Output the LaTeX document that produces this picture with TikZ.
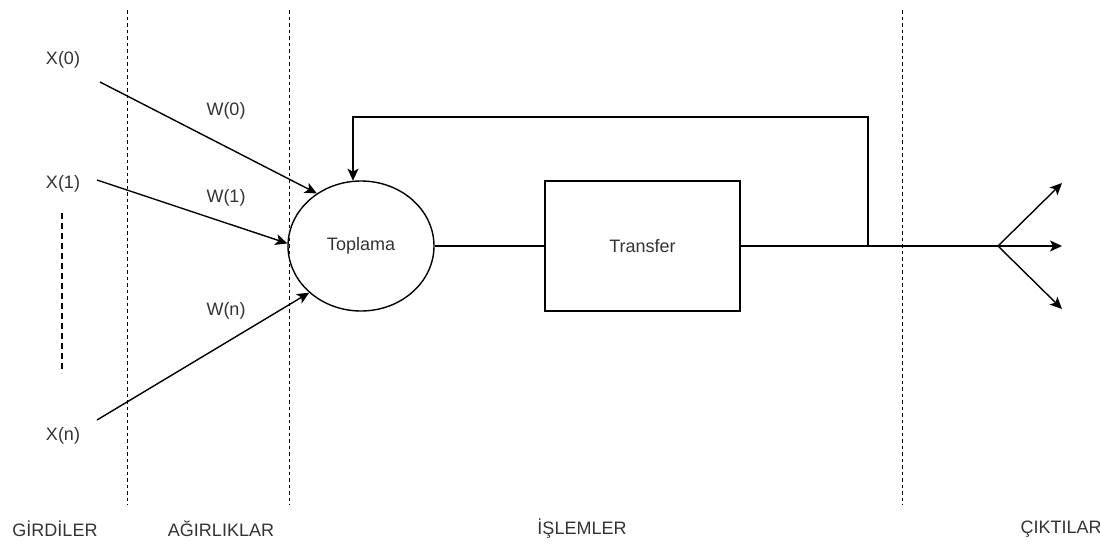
\documentclass[tikz,border=0pt]{standalone}
\usepackage{fontspec}
\setmainfont{Liberation Sans}
\usetikzlibrary{arrows.meta,shapes.geometric}
\begin{document}
\begin{tikzpicture}[x=1pt,y=-1pt,
  line width=1.4pt,
  lbl/.style={text=black!80,font=\fontsize{18}{21}\selectfont,inner sep=0pt},
  arr/.style={-{Stealth[length=12pt,width=11pt,inset=3pt]}},
  divider/.style={line width=1pt,dash pattern=on 3.5pt off 3pt},
  gap/.style={line width=1.2pt,dash pattern=on 6pt off 4pt}]
\useasboundingbox (0,0) rectangle (1100,549);

% column dividers
\coordinate (d1t) at (127,10);  \coordinate (d1b) at (127,505);
\coordinate (d2t) at (289,10);  \coordinate (d2b) at (289,505);
\coordinate (d3t) at (902,10);  \coordinate (d3b) at (902,505);
\draw[divider] (d1t) -- (d1b);
\draw[divider] (d2t) -- (d2b);
\draw[divider] (d3t) -- (d3b);

% inputs
\node[lbl] (x0) at (63,60) {X(0)};
\node[lbl] (x1) at (63,184) {X(1)};
\node[lbl] (xn) at (63,436) {X(n)};
\coordinate (gapt) at (62,213);
\coordinate (gapb) at (62,373);
\draw[gap] (gapt) -- (gapb);

% weights
\node[lbl] (w0) at (226,111) {W(0)};
\node[lbl] (w1) at (226,198) {W(1)};
\node[lbl] (wn) at (226,311) {W(n)};

% summation and transfer blocks
\node[draw,ellipse,minimum width=146pt,minimum height=130pt,inner sep=0pt,lbl] (sum) at (361,246) {Toplama};
\node[draw,rectangle,minimum width=195pt,minimum height=130pt,inner sep=0pt,lbl] (tr) at (642.5,246) {Transfer};

% weighted input connections
\coordinate (s0) at (100,82);
\coordinate (s1) at (97,180);
\coordinate (sn) at (97,420);
\draw[arr] (s0) -- (sum.130);
\draw[arr] (s1) -- (sum.178);
\draw[arr] (sn) -- (sum.222);

% forward path
\draw (sum.east) -- (tr.west);
\coordinate (fb) at (868,246);
\coordinate (fbtop) at (868,117);
\coordinate (split) at (998,246);
\draw (tr.east) -- (split);

% feedback loop
\draw[arr] (fb) -- (fbtop) -| (sum.97);

% outputs
\coordinate (o1) at (1062,183);
\coordinate (o2) at (1062,246);
\coordinate (o3) at (1062,309);
\draw[arr] (split) -- (o1);
\draw[arr] (split) -- (o2);
\draw[arr] (split) -- (o3);

% column titles
\node[lbl] (c1) at (55,529) {GİRDİLER};
\node[lbl] (c2) at (221,529) {AĞIRLIKLAR};
\node[lbl] (c3) at (582,529) {İŞLEMLER};
\node[lbl] (c4) at (1061,529) {ÇIKTILAR};
\end{tikzpicture}
\end{document}
